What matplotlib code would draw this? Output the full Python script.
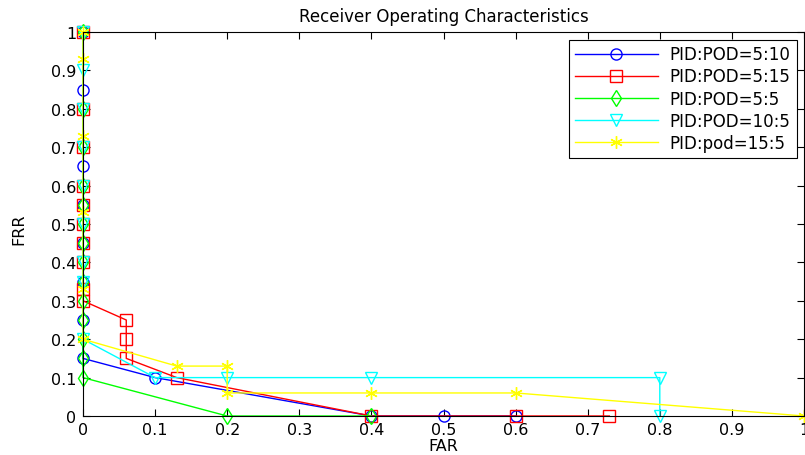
import matplotlib
matplotlib.use("Agg")
import matplotlib.pyplot as plt
import numpy as np

# Datos (FAR, FRR)
far_5_10 = [0, 0, 0, 0, 0, 0, 0, 0, 0.1, 0.4, 0.5, 0.6]
frr_5_10 = [1, 0.85, 0.65, 0.55, 0.45, 0.35, 0.25, 0.15, 0.1, 0, 0, 0]

far_5_15 = [0, 0, 0, 0, 0, 0, 0, 0, 0, 0, 0.06, 0.06, 0.06, 0.13, 0.4, 0.6, 0.73]
frr_5_15 = [1, 0.8, 0.7, 0.6, 0.55, 0.5, 0.45, 0.4, 0.33, 0.3, 0.25, 0.2, 0.15, 0.1, 0, 0, 0]

far_5_5 = [0, 0, 0, 0, 0, 0, 0, 0, 0, 0, 0, 0, 0, 0, 0.2, 0.4]
frr_5_5 = [1, 0.8, 0.7, 0.6, 0.55, 0.5, 0.45, 0.4, 0.35, 0.3, 0.25, 0.2, 0.15, 0.1, 0, 0]

far_10_5 = [0, 0, 0, 0, 0, 0, 0, 0, 0, 0.1, 0.2, 0.4, 0.8, 0.8]
frr_10_5 = [1, 0.9, 0.8, 0.7, 0.6, 0.5, 0.4, 0.35, 0.2, 0.1, 0.1, 0.1, 0.1, 0]

far_15_5 = [0, 0, 0, 0, 0, 0, 0.13, 0.2, 0.2, 0.4, 0.6, 1.0]
frr_15_5 = [1, 0.93, 0.73, 0.53, 0.33, 0.2, 0.13, 0.13, 0.06, 0.06, 0.06, 0]

asterisk = (6, 2, 0)
series = [
    (far_5_10, frr_5_10, "#0000ff", "o", 8, "PID:POD=5:10"),
    (far_5_15, frr_5_15, "#ff0000", "s", 8.5, "PID:POD=5:15"),
    (far_5_5, frr_5_5, "#00ff00", "d", 8, "PID:POD=5:5"),
    (far_10_5, frr_10_5, "#00ffff", "v", 9, "PID:POD=10:5"),
    (far_15_5, frr_15_5, "#ffff00", asterisk, 9, "PID:pod=15:5"),
]

plt.rcParams["font.family"] = ["DejaVu Sans"]
fs = 11.5

fig = plt.figure(figsize=(8.05, 4.56), dpi=100)
ax = fig.add_axes([83 / 805, 1 - 417 / 456, 721 / 805, 384 / 456])

for x, y, c, m, ms, label in series:
    ax.plot(x, y, color=c, marker=m, markersize=ms, markerfacecolor="none",
            markeredgecolor=c, markeredgewidth=1, linewidth=1, label=label,
            clip_on=False)

ax.set_xlim(0, 1)
ax.set_ylim(0, 1)
ticks = np.arange(0, 1.01, 0.1)
labels = ["0"] + [f"{t:.1f}" for t in ticks[1:-1]] + ["1"]
ax.set_xticks(ticks)
ax.set_xticklabels(labels)
ax.set_yticks(ticks)
ax.set_yticklabels(labels)
ax.tick_params(direction="in", top=True, right=True, length=5, labelsize=fs)
ax.tick_params(axis="x", pad=4)
ax.tick_params(axis="y", pad=5)

ax.set_title("Receiver Operating Characteristics", fontsize=12, pad=8)
ax.set_xlabel("FAR", fontsize=fs, va="bottom")
ax.xaxis.set_label_coords(0.5, -0.097)
ax.set_ylabel("FRR", fontsize=fs)
ax.yaxis.set_label_coords(-0.078, 0.49)

leg = ax.legend(loc="upper right", fontsize=12, handlelength=5.0, handletextpad=0.7,
                fancybox=False, framealpha=1, edgecolor="black",
                borderaxespad=0.45, labelspacing=0.25, borderpad=0.35)
leg.get_frame().set_linewidth(0.8)

fig.savefig("out.png", dpi=100)
